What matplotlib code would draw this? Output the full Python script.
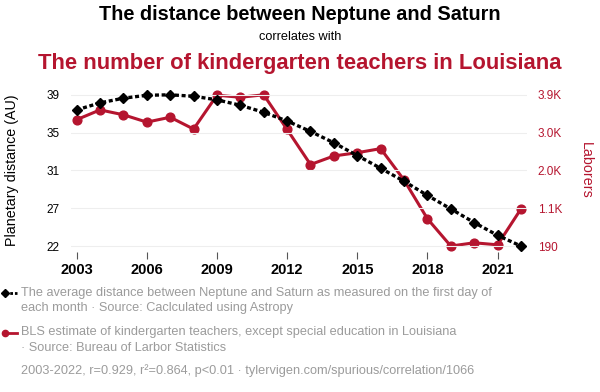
import numpy as np
import matplotlib
matplotlib.use('Agg')
import matplotlib.pyplot as plt
from matplotlib.lines import Line2D

plt.rcParams['font.family'] = ['Liberation Sans', 'DejaVu Sans']

# Data
years = list(range(2003, 2023))
distance_au = [37.59, 38.38, 38.90, 39.23, 39.28, 39.12, 38.72, 38.11, 37.32, 36.35,
               35.18, 33.91, 32.48, 31.06, 29.60, 28.02, 26.51, 24.98, 23.55, 22.35]
teachers = [3290, 3530, 3410, 3230, 3350, 3060, 3890, 3840, 3900, 3050,
            2190, 2400, 2480, 2580, 1810, 860, 190, 270, 220, 1100]

left_tick_labels = ['22', '27', '31', '35', '39']
right_tick_labels = ['190', '1.1K', '2.0K', '3.0K', '3.9K']
x_ticks = [2003, 2006, 2009, 2012, 2015, 2018, 2021]

RED = '#B5152F'
GREY = '#9B9B9B'
H = 392.0  # figure height in px, used to place the note lines

fig = plt.figure(figsize=(6, 3.92), dpi=100)
ax = fig.add_axes([0.118, 0.357, 0.76, 0.419])
ax2 = ax.twinx()


def padded(lo, hi):
    span = hi - lo
    return lo - span * 6 / 151, hi + span * 7 / 151


# Left axis: planetary distance
ax.plot(years, distance_au, color='black', linestyle=(0, (1.2, 0.8)), linewidth=2.4,
        marker='D', markersize=5.5, zorder=3)
d_lo, d_hi = min(distance_au), max(distance_au)
ax.set_ylim(*padded(d_lo, d_hi))
ax.set_yticks(np.linspace(d_lo, d_hi, 5))
ax.set_yticklabels(left_tick_labels)
ax.set_xlim(2002.75, 2022.25)
ax.set_xticks(x_ticks)
ax.set_xticklabels([str(x) for x in x_ticks], fontweight='bold', fontsize=10.5)
ax.tick_params(axis='x', length=5, color='#555555', pad=3)
ax.tick_params(axis='y', length=0, labelsize=8.5, pad=8)
ax.grid(axis='y', color='#EEEEEE', linewidth=0.8)
ax.set_ylabel('Planetary distance (AU)', fontsize=10.3, labelpad=20)

# Right axis: kindergarten teachers
ax2.plot(years, teachers, color=RED, linewidth=2.2, marker='o', markersize=6.3, zorder=2)
t_lo, t_hi = min(teachers), max(teachers)
ax2.set_ylim(*padded(t_lo, t_hi))
ax2.set_yticks(np.linspace(t_lo, t_hi, 5))
ax2.set_yticklabels(right_tick_labels)
ax2.tick_params(axis='y', length=0, labelsize=8.5, labelcolor=RED, pad=8)
ax2.set_ylabel('Laborers', fontsize=10.3, color=RED, rotation=270, labelpad=22)

for a in (ax, ax2):
    for s in a.spines.values():
        s.set_visible(False)
ax.set_zorder(ax2.get_zorder() + 1)
ax.patch.set_visible(False)

# Titles
fig.text(0.5, 1 - 14 / H, 'The distance between Neptune and Saturn', ha='center', va='center',
         fontsize=14.3, fontweight='bold')
fig.text(0.5, 1 - 37.5 / H, 'correlates with', ha='center', va='center', fontsize=9.2)
fig.text(0.5, 1 - 63 / H, 'The number of kindergarten teachers in Louisiana', ha='center', va='center',
         fontsize=15.8, fontweight='bold', color=RED)

# Legend-like notes, one text per line
notes = [
    (293, 'The average distance between Neptune and Saturn as measured on the first day of'),
    (308.5, 'each month · Source: Caclculated using Astropy'),
    (332.5, 'BLS estimate of kindergarten teachers, except special education in Louisiana'),
    (348, '· Source: Bureau of Larbor Statistics'),
    (370.5, '2003-2022, r=0.929, r²=0.864, p<0.01 · tylervigen.com/spurious/correlation/1066'),
]
for y_px, line in notes:
    fig.text(21 / 600, 1 - y_px / H, line, va='center', fontsize=9.15, color=GREY)

fig.add_artist(Line2D([0.008, 0.029], [1 - 293 / H] * 2, color='black', linestyle=(0, (1, 0.7)),
                      linewidth=2, marker='D', markersize=4, markevery=[0]))
fig.add_artist(Line2D([0.008, 0.029], [1 - 332.5 / H] * 2, color=RED, linewidth=2,
                      marker='o', markersize=4.5, markevery=[0]))

fig.savefig('out.png', dpi=100)
